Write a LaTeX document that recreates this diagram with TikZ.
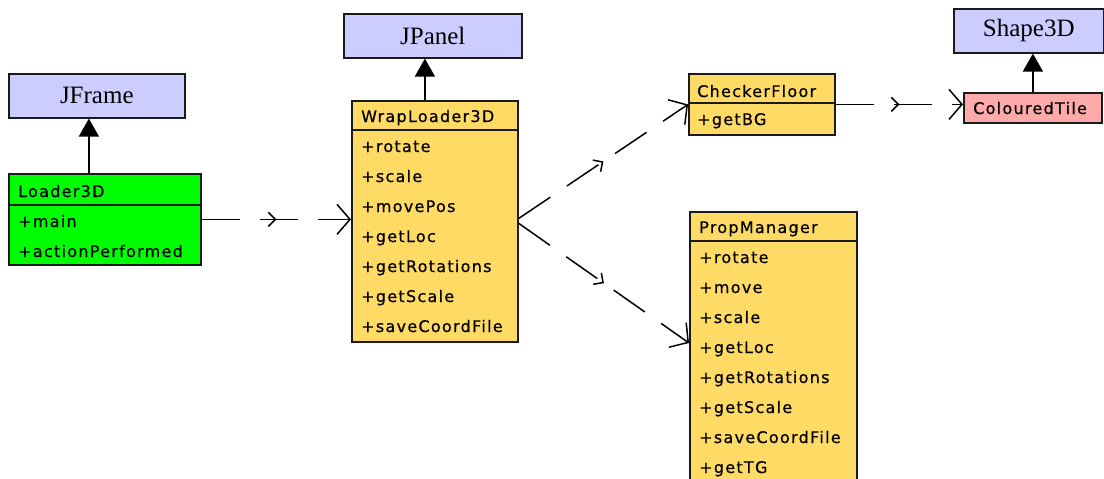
\documentclass[tikz,border=0pt]{standalone}
\usepackage{fontspec}
\setmainfont{Liberation Serif}
\newfontfamily\umlfont[LetterSpace=8,FakeBold=0.6]{DejaVu Sans}
\usetikzlibrary{arrows.meta,decorations.markings,calc}

\definecolor{libblue}{HTML}{CCCCFF}
\definecolor{maingreen}{HTML}{00FF00}
\definecolor{classyellow}{HTML}{FFDB66}
\definecolor{tilepink}{HTML}{FFAAAA}
\definecolor{edge}{HTML}{1A1A1A}

\tikzset{
  libclass/.style={draw=edge, line width=1.6pt, fill=libblue, anchor=north west,
    inner sep=0pt, minimum height=44pt, font=\fontsize{25}{25}\selectfont},
  classbox/.style={draw=edge, line width=1.8pt, anchor=north west, inner sep=0pt},
  divider/.style={draw=edge, line width=1.6pt},
  member/.style={font=\umlfont\fontsize{16}{16}\selectfont, anchor=base west, inner sep=0pt},
  extends/.style={line width=1.5pt, -{Triangle[length=18pt,width=20pt]}},
  uses/.style={line width=1.5pt, dash pattern=on 38pt off 20pt,
    -{Straight Barb[length=13pt,width=30pt]},
    decoration={markings, mark=at position 0.5 with {\arrow{Straight Barb[length=7pt,width=14pt]}}},
    postaction={decorate}},
}

\begin{document}
\begin{tikzpicture}[x=1pt,y=-1pt]
\useasboundingbox (0,0) rectangle (1104,479);
\clip (0,0) rectangle (1104,479);

% library superclasses
\node[libclass, minimum width=176pt] (jframe) at (8,73) {JFrame};
\node[libclass, minimum width=178pt] (jpanel) at (343,13) {JPanel};
\node[libclass, minimum width=150pt] (shape) at (953,8) {Shape3D};

% Loader3D
\node[classbox, fill=maingreen, minimum width=192pt, minimum height=91pt] (loader) at (8,173) {};
\draw[divider] (8,205) -- (200,205);
\node[member] (loaderName) at (18,197) {Loader3D};
\foreach \m [count=\i] in {+main,+actionPerformed}
  \node[member] (loaderM\i) at (18,{197+30*\i}) {\m};

% WrapLoader3D
\node[classbox, fill=classyellow, minimum width=166pt, minimum height=241pt] (wrap) at (351,100) {};
\draw[divider] (351,130) -- (517,130);
\node[member] (wrapName) at (361,122) {WrapLoader3D};
\foreach \m [count=\i] in {+rotate,+scale,+movePos,+getLoc,+getRotations,+getScale,+saveCoordFile}
  \node[member] (wrapM\i) at (361,{122+30*\i}) {\m};

% CheckerFloor
\node[classbox, fill=classyellow, minimum width=146pt, minimum height=61pt] (checker) at (688,73) {};
\draw[divider] (688,103) -- (834,103);
\node[member] (checkerName) at (697,97) {CheckerFloor};
\node[member] (checkerM1) at (697,125) {+getBG};

% PropManager
\node[classbox, fill=classyellow, minimum width=167pt, minimum height=280pt] (prop) at (689,211) {};
\draw[divider] (689,241) -- (856,241);
\node[member] (propName) at (699,233) {PropManager};
\foreach \m [count=\i] in {+rotate,+move,+scale,+getLoc,+getRotations,+getScale,+saveCoordFile,+getTG}
  \node[member] (propM\i) at (699,{233+30*\i}) {\m};

% ColouredTile
\node[classbox, fill=tilepink, minimum width=138pt, minimum height=30pt] (tile) at (963,92) {};
\node[member] (tileName) at (973,114) {ColouredTile};

% generalisations
\draw[extends] ([xshift=-16pt]loader.north) -- ([xshift=-16pt]loader.north |- jframe.south);
\draw[extends] ([xshift=-10pt]wrap.north) -- ([xshift=-10pt]wrap.north |- jpanel.south);
\draw[extends] (tile.north) -- (tile.north |- shape.south);

% dependencies
\draw[uses] (loader.east) -- (loader.east -| wrap.west);
\draw[uses] ([yshift=3pt]wrap.east) -- (checker.west);
\draw[uses] ([yshift=-2pt]wrap.east) -- ([yshift=-132pt]prop.north west);
\draw[uses] (checker.east) -- (checker.east -| tile.west);
\end{tikzpicture}
\end{document}
